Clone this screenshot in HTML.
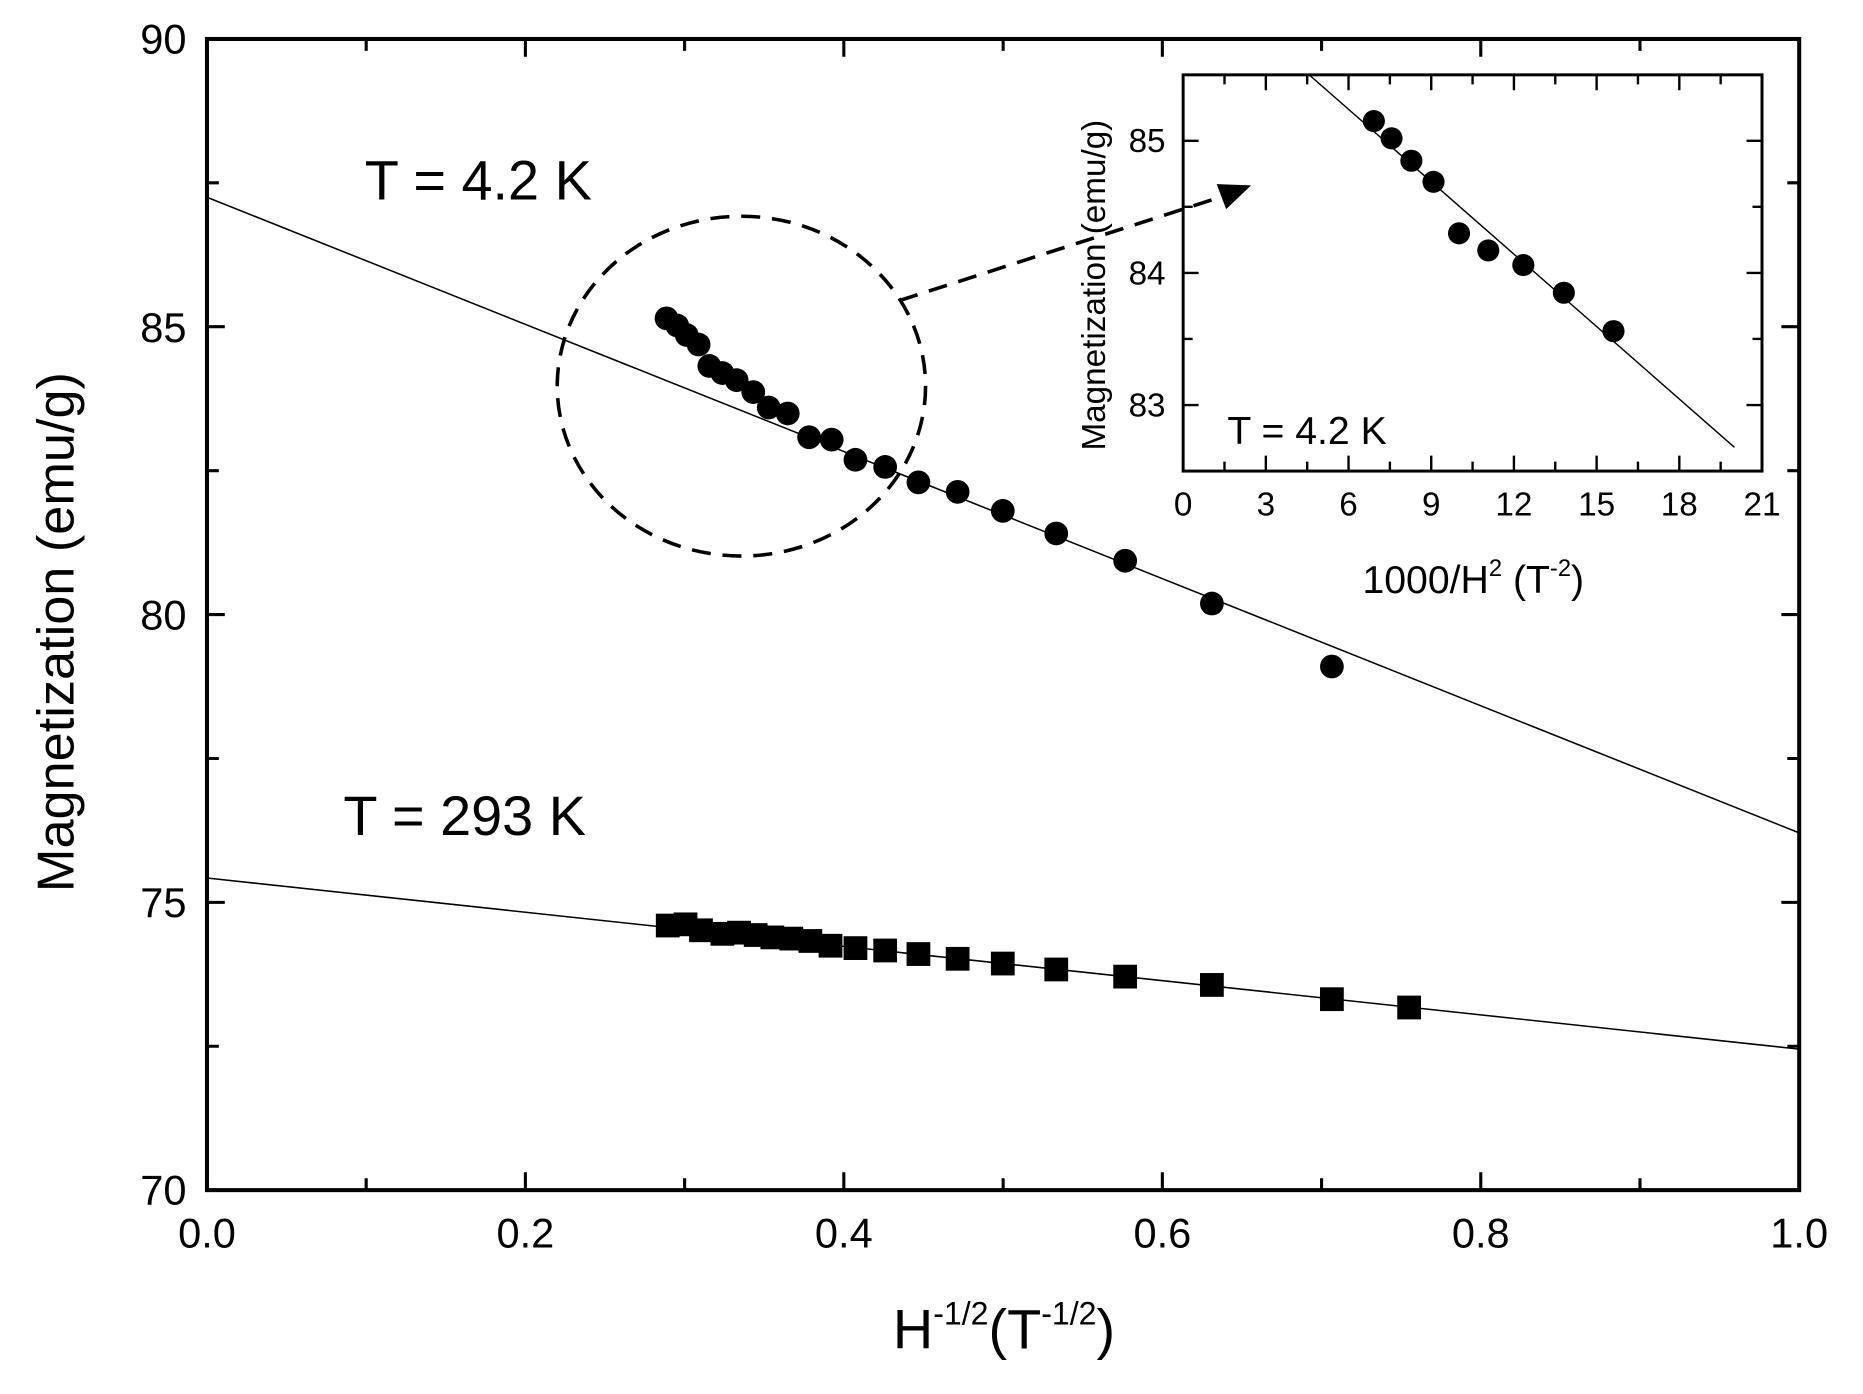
<!DOCTYPE html>
<html><head><meta charset="utf-8"><style>
html,body{margin:0;padding:0;background:#fff;}
svg{display:block;}
text{font-family:"Liberation Sans",Arial,sans-serif;fill:#000;}
</style></head><body>
<svg width="1863" height="1394" viewBox="0 0 1568 1173.3" preserveAspectRatio="none" xmlns="http://www.w3.org/2000/svg">
<rect x="0" y="0" width="1568" height="1174" fill="#fff"/>
<line x1="174.2" y1="166" x2="1514.3" y2="701" stroke="#000" stroke-width="1.3"/>
<line x1="174.2" y1="739" x2="1514.3" y2="883" stroke="#000" stroke-width="1.3"/>
<rect x="174.2" y="32.8" width="1340.1" height="968.9" fill="none" stroke="#000" stroke-width="3.4"/>
<g stroke="#000" stroke-width="2.6">
<path d="M174.2 1001.7v-15M308.2 1001.7v-10M442.2 1001.7v-15M576.2 1001.7v-10M710.2 1001.7v-15M844.3 1001.7v-10M978.3 1001.7v-15M1112.3 1001.7v-10M1246.3 1001.7v-15M1380.3 1001.7v-10M1514.3 1001.7v-15"/>
<path d="M174.2 32.8v15M308.2 32.8v10M442.2 32.8v15M576.2 32.8v10M710.2 32.8v15M844.3 32.8v10M978.3 32.8v15M1112.3 32.8v10M1246.3 32.8v15M1380.3 32.8v10M1514.3 32.8v15"/>
<path d="M174.2 1001.7h15M174.2 880.6h10M174.2 759.5h15M174.2 638.4h10M174.2 517.3h15M174.2 396.2h10M174.2 275.0h15M174.2 153.9h10M174.2 32.8h15"/>
<path d="M1514.3 1001.7h-15M1514.3 880.6h-10M1514.3 759.5h-15M1514.3 638.4h-10M1514.3 517.3h-15M1514.3 396.2h-10M1514.3 275.0h-15M1514.3 153.9h-10M1514.3 32.8h-15"/>
</g>
<g font-size="35" text-anchor="middle">
<text x="174.2" y="1050">0.0</text><text x="442.2" y="1050">0.2</text><text x="710.2" y="1050">0.4</text><text x="978.3" y="1050">0.6</text><text x="1246.3" y="1050">0.8</text><text x="1514.3" y="1050">1.0</text>
</g>
<g font-size="35" text-anchor="end">
<text x="157" y="1014">70</text><text x="157" y="772">75</text><text x="157" y="530">80</text><text x="157" y="288">85</text><text x="157" y="45">90</text>
</g>
<text transform="translate(62,532) rotate(-90)" font-size="44" text-anchor="middle">Magnetization (emu/g)</text>
<text x="845" y="1135" font-size="47" text-anchor="middle">H<tspan font-size="27" dy="-20">-1/2</tspan><tspan dy="20">(T</tspan><tspan font-size="27" dy="-20">-1/2</tspan><tspan dy="20">)</tspan></text>
<text x="307" y="168" font-size="47">T = 4.2 K</text>
<text x="289" y="703" font-size="47">T = 293 K</text>
<g fill="#000">
<circle cx="561" cy="268" r="10"/><circle cx="570" cy="274" r="10"/><circle cx="578" cy="282" r="10"/><circle cx="588" cy="290" r="10"/><circle cx="597" cy="308" r="10"/><circle cx="608" cy="314" r="10"/><circle cx="620" cy="320" r="10"/><circle cx="634" cy="330" r="10"/><circle cx="647" cy="343" r="10"/><circle cx="663" cy="348" r="10"/><circle cx="681" cy="368" r="10"/><circle cx="700" cy="370" r="10"/><circle cx="720" cy="387" r="10"/><circle cx="745" cy="393" r="10"/><circle cx="773" cy="406" r="10"/><circle cx="806" cy="414" r="10"/><circle cx="844" cy="430" r="10"/><circle cx="889" cy="449" r="10"/><circle cx="947" cy="472" r="10"/><circle cx="1020" cy="508" r="10"/><circle cx="1121" cy="561" r="10"/>
</g>
<g fill="#000">
<rect x="552" y="769" width="20" height="20"/><rect x="567" y="768" width="20" height="20"/><rect x="580" y="773" width="20" height="20"/><rect x="598" y="776" width="20" height="20"/><rect x="612" y="775" width="20" height="20"/><rect x="626" y="777" width="20" height="20"/><rect x="640" y="779" width="20" height="20"/><rect x="656" y="780" width="20" height="20"/><rect x="672" y="782" width="20" height="20"/><rect x="689" y="786" width="20" height="20"/><rect x="710" y="788" width="20" height="20"/><rect x="735" y="790" width="20" height="20"/><rect x="763" y="793" width="20" height="20"/><rect x="796" y="797" width="20" height="20"/><rect x="834" y="801" width="20" height="20"/><rect x="879" y="806" width="20" height="20"/><rect x="937" y="812" width="20" height="20"/><rect x="1010" y="819" width="20" height="20"/><rect x="1111" y="831" width="20" height="20"/><rect x="1176" y="838" width="20" height="20"/>
</g>
<ellipse cx="624" cy="325" rx="155" ry="143" fill="none" stroke="#000" stroke-width="3" stroke-dasharray="16 10"/>
<!-- inset -->
<rect x="995.8" y="63" width="487.2" height="333.5" fill="#fff" stroke="none"/>
<line x1="1101.9" y1="63" x2="1459.8" y2="376.5" stroke="#000" stroke-width="1.2"/>
<rect x="995.8" y="63" width="487.2" height="333.5" fill="none" stroke="#000" stroke-width="2.5"/>
<g stroke="#000" stroke-width="2">
<path d="M995.8 396.5v-13M1030.6 396.5v-8M1065.4 396.5v-13M1100.2 396.5v-8M1135 396.5v-13M1169.8 396.5v-8M1204.6 396.5v-13M1239.4 396.5v-8M1274.2 396.5v-13M1309 396.5v-8M1343.8 396.5v-13M1378.6 396.5v-8M1413.4 396.5v-13M1448.2 396.5v-8M1483 396.5v-13"/>
<path d="M995.8 63v13M1030.6 63v8M1065.4 63v13M1100.2 63v8M1135 63v13M1169.8 63v8M1204.6 63v13M1239.4 63v8M1274.2 63v13M1309 63v8M1343.8 63v13M1378.6 63v8M1413.4 63v13M1448.2 63v8M1483 63v13"/>
<path d="M995.8 340.9h13M995.8 285.3h8M995.8 229.7h13M995.8 174.1h8M995.8 118.5h13"/>
<path d="M1483 340.9h-13M1483 285.3h-8M1483 229.7h-13M1483 174.1h-8M1483 118.5h-13"/>
</g>
<g font-size="28" text-anchor="middle">
<text x="995.8" y="434">0</text><text x="1065.4" y="434">3</text><text x="1135" y="434">6</text><text x="1204.6" y="434">9</text><text x="1274.2" y="434">12</text><text x="1343.8" y="434">15</text><text x="1413.4" y="434">18</text><text x="1483" y="434">21</text>
</g>
<g font-size="28" text-anchor="end">
<text x="981" y="350.5">83</text><text x="981" y="239.3">84</text><text x="981" y="128.1">85</text>
</g>
<text transform="translate(930,240) rotate(-90)" font-size="28" text-anchor="middle">Magnetization (emu/g)</text>
<text x="1240" y="499" font-size="33" text-anchor="middle">1000/H<tspan font-size="20" dy="-14">2</tspan><tspan dy="14"> (T</tspan><tspan font-size="20" dy="-14">-2</tspan><tspan dy="14">)</tspan></text>
<text x="1033" y="373.8" font-size="33">T = 4.2 K</text>
<g fill="#000">
<circle cx="1156.3" cy="101.9" r="9.3"/><circle cx="1171.2" cy="116.4" r="9.3"/><circle cx="1187.9" cy="135.3" r="9.3"/><circle cx="1206.5" cy="153" r="9.3"/><circle cx="1228" cy="196.4" r="9.3"/><circle cx="1252.6" cy="210.8" r="9.3"/><circle cx="1282.1" cy="223.1" r="9.3"/><circle cx="1316.2" cy="246.4" r="9.3"/><circle cx="1358" cy="278.7" r="9.3"/>
</g>
<!-- arrow over inset -->
<line x1="757" y1="253" x2="1030" y2="165" stroke="#000" stroke-width="3" stroke-dasharray="16 10"/>
<polygon points="1053,156 1024,155 1032,176" fill="#000"/>
</svg>
</body></html>
